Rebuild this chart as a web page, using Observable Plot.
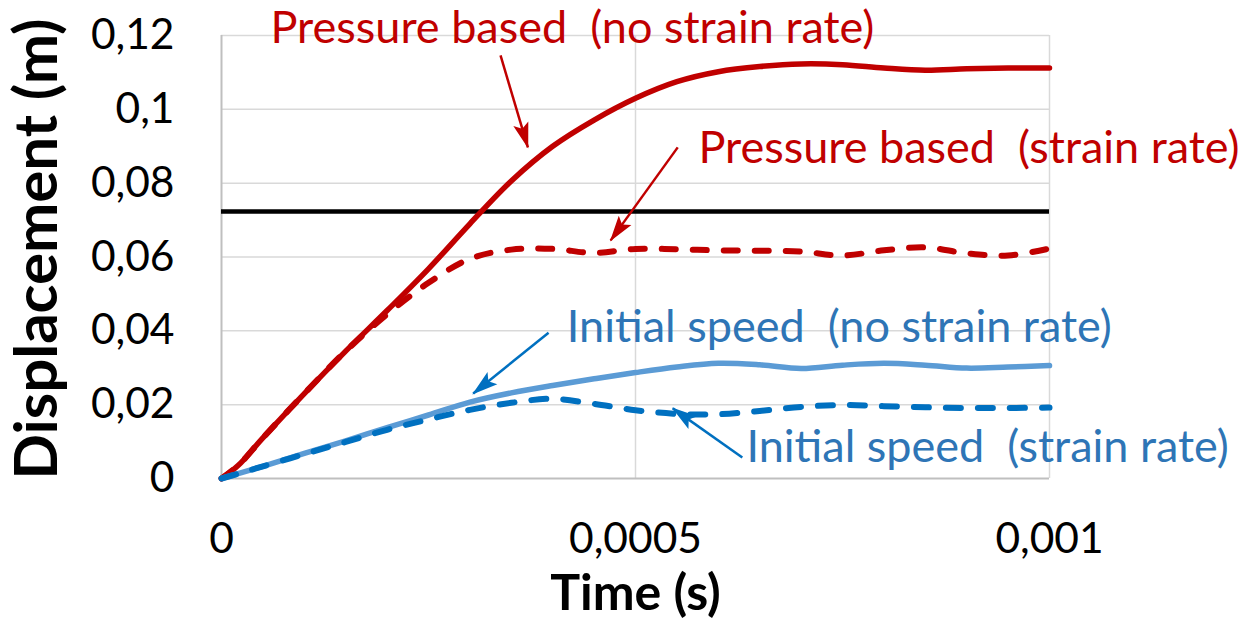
<!DOCTYPE html>
<html><head><meta charset="utf-8">
<script src="https://cdn.jsdelivr.net/npm/d3@7"></script>
<script src="https://cdn.jsdelivr.net/npm/@observablehq/plot@0.6"></script>
<style>
body{margin:0;background:#fff;}
svg text{white-space:pre;}
</style></head><body><div id="chart"></div>
<script>
const time = [0, 0.00002, 0.00005, 0.0001, 0.00015, 0.0002, 0.00025, 0.0003, 0.00035, 0.0004, 0.00045, 0.0005, 0.00055, 0.0006, 0.00065, 0.0007, 0.00075, 0.0008, 0.00085, 0.0009, 0.00095, 0.001];
const pressureNoStrainRate = [0, 0.0035, 0.011, 0.023, 0.0345, 0.0455, 0.0568, 0.069, 0.0806, 0.090, 0.0971, 0.103, 0.1075, 0.1102, 0.1116, 0.1123, 0.1121, 0.1112, 0.1106, 0.1110, 0.1112, 0.1112];
const pressureStrainRate = [0, 0.0035, 0.011, 0.023, 0.0345, 0.0445, 0.053, 0.0595, 0.062, 0.0622, 0.0611, 0.0622, 0.0621, 0.0618, 0.0617, 0.0615, 0.0604, 0.0618, 0.0626, 0.061, 0.0604, 0.0623];
const speedNoStrainRate = [0, 0.0013, 0.0033, 0.0068, 0.0102, 0.0138, 0.0172, 0.0207, 0.0232, 0.0252, 0.027, 0.0287, 0.0302, 0.0312, 0.0308, 0.0298, 0.0307, 0.0312, 0.0307, 0.0299, 0.0302, 0.0306];
const speedStrainRate = [0, 0.0013, 0.0033, 0.0066, 0.0099, 0.0132, 0.016, 0.0186, 0.0205, 0.0216, 0.0202, 0.0185, 0.0175, 0.0174, 0.0183, 0.0194, 0.0199, 0.0196, 0.0193, 0.0191, 0.0191, 0.0192];
const limitDisplacement = [0.0723];

const yTicks = [0, 0.02, 0.04, 0.06, 0.08, 0.1, 0.12];
const yTickLabels = ["0", "0,02", "0,04", "0,06", "0,08", "0,1", "0,12"];
const xTicks = [0, 0.0005, 0.001];
const xTickLabels = ["0", "0,0005", "0,001"];

const labelTexts = ["Pressure based  (no strain rate)", "Pressure based  (strain rate)", "Initial speed  (no strain rate)", "Initial speed  (strain rate)"];
const labelTime = [0.0000592, 0.000576, 0.000417, 0.000634];
const labelDisp = [0.1219, 0.0894, 0.0409, 0.0084];
const arrowTime1 = [0.000337, 0.000551, 0.000395, 0.000629];
const arrowDisp1 = [0.1146, 0.0897, 0.0395, 0.0057];
const arrowTime2 = [0.00037, 0.00047, 0.000304, 0.000545];
const arrowDisp2 = [0.0897, 0.0645, 0.023, 0.019];

const red = "#C00000", lightBlue = "#5B9BD5", darkBlue = "#0070C0", labelBlue = "#2E75B6";
const labelColors = [red, red, labelBlue, labelBlue];
const arrowColors = [red, red, darkBlue, darkBlue];

const rows = (vals) => time.map((t, i) => ({t, d: vals[i]}));
const labels = labelTexts.map((text, i) => ({text, t: labelTime[i], d: labelDisp[i], c: labelColors[i]}));
const arrows = arrowTime1.map((t1, i) => ({t1, d1: arrowDisp1[i], t2: arrowTime2[i], d2: arrowDisp2[i], c: arrowColors[i]}));

function filledArrow(color) {
  const m = d3.create("svg:marker")
    .attr("viewBox", "-10 -10 20 20")
    .attr("markerUnits", "userSpaceOnUse")
    .attr("markerWidth", 26).attr("markerHeight", 26)
    .attr("refX", 9).attr("refY", 0)
    .attr("orient", "auto")
    .attr("fill", color).attr("stroke", "none");
  m.append("path").attr("d", "M-10,-6L10,0L-10,6L-6,0Z");
  return m.node();
}

const chart = Plot.plot({
  width: 1256, height: 620,
  marginLeft: 221, marginRight: 207, marginTop: 35, marginBottom: 142,
  style: {fontFamily: "Lato, sans-serif", fontSize: "42px", background: "#fff", overflow: "visible"},
  x: {domain: [0, 0.001]},
  y: {domain: [0, 0.12]},
  marks: [
    Plot.gridY(yTicks.slice(1), {stroke: "#d9d9d9", strokeOpacity: 1, strokeWidth: 1.5}),
    Plot.gridX(xTicks.slice(1), {stroke: "#d9d9d9", strokeOpacity: 1, strokeWidth: 1.5}),
    Plot.ruleX([0], {stroke: "#bfbfbf", strokeWidth: 2}),
    Plot.ruleY([0], {stroke: "#bfbfbf", strokeWidth: 2}),
    Plot.ruleY(limitDisplacement, {stroke: "#000", strokeWidth: 4.5}),
    Plot.line(rows(pressureNoStrainRate), {x: "t", y: "d", stroke: red, strokeWidth: 5.5, curve: "catmull-rom"}),
    Plot.line(rows(pressureStrainRate), {x: "t", y: "d", stroke: red, strokeWidth: 6, curve: "catmull-rom", strokeDasharray: "14,17", strokeLinecap: "round"}),
    Plot.line(rows(speedNoStrainRate), {x: "t", y: "d", stroke: lightBlue, strokeWidth: 5.5, curve: "catmull-rom"}),
    Plot.line(rows(speedStrainRate), {x: "t", y: "d", stroke: darkBlue, strokeWidth: 6, curve: "catmull-rom", strokeDasharray: "15,17", strokeLinecap: "round"}),
    ...arrowColors.map((c, i) => Plot.link([arrows[i]], {x1: "t1", y1: "d1", x2: "t2", y2: "d2", stroke: c, strokeWidth: 2.5, markerEnd: () => filledArrow(c)})),
    Plot.text(labels, {x: "t", y: "d", text: "text", fill: "c", textAnchor: "start", fontSize: 45}),
    Plot.axisY(yTicks, {tickFormat: d => yTickLabels[yTicks.indexOf(d)], tickSize: 0, tickPadding: 47, fontSize: 42.5, label: null}),
    Plot.axisX(xTicks, {tickFormat: d => xTickLabels[xTicks.indexOf(d)], tickSize: 0, tickPadding: 44, fontSize: 42.5, label: null}),
    Plot.text(["Displacement (m)"], {frameAnchor: "left", dx: -184, dy: -8, textAnchor: "middle", lineAnchor: "middle", rotate: -90, fontSize: 60, fontWeight: "bold", fill: "#000"}),
    Plot.text(["Time (s)"], {frameAnchor: "bottom", dy: 115, textAnchor: "middle", lineAnchor: "middle", fontSize: 50, fontWeight: "bold", fill: "#000"})
  ]
});
document.getElementById("chart").appendChild(chart);
</script></body></html>
